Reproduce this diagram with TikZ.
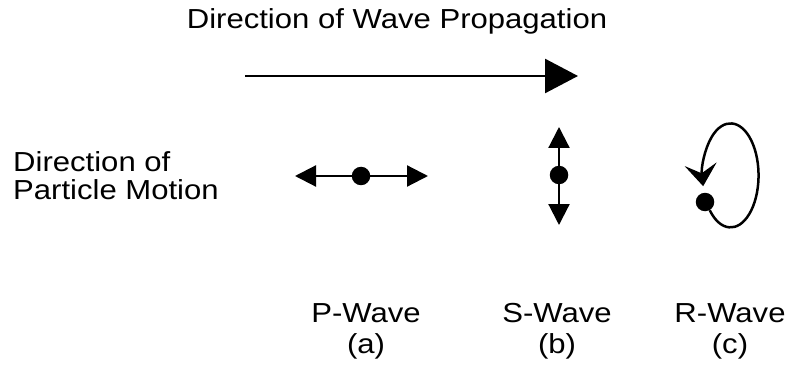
\documentclass[tikz,border=0pt]{standalone}
\usepackage{fontspec}
\setmainfont{Liberation Sans}[FakeStretch=1.13]
\usetikzlibrary{arrows.meta}
\tikzset{
  lbl/.style={font=\fontsize{27.5}{28}\selectfont,inner sep=0pt},
  wlbl/.style={lbl,font=\fontsize{27.5}{31}\selectfont,align=center,anchor=base},
  dot/.style={circle,fill=black,minimum size=18.5pt,inner sep=0pt},
}
\begin{document}
\begin{tikzpicture}[x=1pt,y=1pt,
  prop/.style={-{Triangle[length=33pt,width=34pt]},line width=2.6pt,black},
  mot/.style={-{Triangle[length=21pt,width=21pt]},line width=2.2pt,black},
  roll/.style={-{Stealth[length=22pt,width=32pt,inset=9pt]},line width=2.5pt,black}]
  \useasboundingbox (0,0) rectangle (791,367);
  % ---- wave propagation ----
  \node[lbl,anchor=base] (title) at (397,338) {Direction of Wave Propagation};
  \coordinate (w0) at (245,291);
  \coordinate (w1) at (578,291);
  \draw[prop] (w0) -- (w1);
  % ---- particle motion (base = last line) ----
  \node[lbl,anchor=base west,align=left] (motion) at (13,167) {Direction of\\Particle Motion};
  % P-wave: back and forth along the path
  \node[dot] (pdot) at (361,191) {};
  \coordinate (pL) at (295,191);
  \coordinate (pR) at (428,191);
  \draw[mot] (pdot) -- (pL);
  \draw[mot] (pdot) -- (pR);
  % S-wave: up and down
  \node[dot] (sdot) at (559,192) {};
  \coordinate (sT) at (559,240);
  \coordinate (sB) at (559,142);
  \draw[mot] (sdot) -- (sT);
  \draw[mot] (sdot) -- (sB);
  % R-wave: rolling loop
  \node[dot] (rdot) at (705,165) {};
  \draw[roll] (rdot.-60) arc[start angle=222,end angle=552,x radius=28,y radius=52];
  % ---- wave names ----
  \node[wlbl] (pw) at (366,14) {P-Wave\\(a)};
  \node[wlbl] (sw) at (557,14) {S-Wave\\(b)};
  \node[wlbl] (rw) at (730,14) {R-Wave\\(c)};
\end{tikzpicture}
\end{document}
